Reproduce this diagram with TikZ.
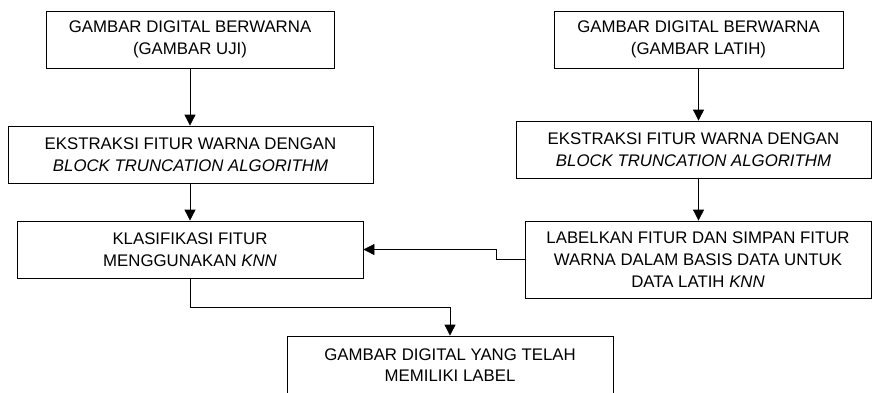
\documentclass[tikz,border=0pt]{standalone}
\usepackage{fontspec}
\setmainfont{Liberation Sans}
\usetikzlibrary{arrows.meta, calc}

\begin{document}
\begin{tikzpicture}[x=1pt,y=-1pt, line width=0.8pt,
  proc_box/.style={draw,align=center,inner sep=0pt,minimum height=57pt,font=\fontsize{16.8}{21.7}\selectfont},
  >={Triangle[width=11pt,length=11pt]}]

\useasboundingbox (0,0) rectangle (872,392);

% kolom kiri: gambar uji
\node[proc_box, minimum width=288pt] (uji) at (190,39.5) {GAMBAR DIGITAL BERWARNA\\(GAMBAR UJI)};
\node[proc_box, minimum width=365pt] (ekstraksi_uji) at (190.5,154.5) {EKSTRAKSI FITUR WARNA DENGAN\\\textit{BLOCK TRUNCATION ALGORITHM}};
\node[proc_box, minimum width=346pt] (klasifikasi) at (190,249.5) {KLASIFIKASI FITUR\\MENGGUNAKAN \textit{KNN}};

% kolom kanan: gambar latih
\node[proc_box, minimum width=289pt] (latih) at (698.5,39.5) {GAMBAR DIGITAL BERWARNA\\(GAMBAR LATIH)};
\node[proc_box, minimum width=355pt] (ekstraksi_latih) at (693.5,149.5) {EKSTRAKSI FITUR WARNA DENGAN\\\textit{BLOCK TRUNCATION ALGORITHM}};
\node[proc_box, minimum width=346pt, minimum height=77pt] (simpan) at (698,259.5) {LABELKAN FITUR DAN SIMPAN FITUR\\WARNA DALAM BASIS DATA UNTUK\\DATA LATIH \textit{KNN}};

% hasil
\node[proc_box, minimum width=326pt, minimum height=58pt] (hasil) at (450,365) {GAMBAR DIGITAL YANG TELAH\\MEMILIKI LABEL};

\draw[->] (uji.south) -- (uji.south |- ekstraksi_uji.north);
\draw[->] (uji.south |- ekstraksi_uji.south) -- (uji.south |- klasifikasi.north);
\draw[->] (latih.south) -- (latih.south |- ekstraksi_latih.north);
\draw[->] (latih.south |- ekstraksi_latih.south) -- (latih.south |- simpan.north);
\draw[->] (simpan.west) -- ++(-28,0) |- (klasifikasi.east);
\draw[->] (klasifikasi.south) -- ++(0,29) -| (hasil.north);

\end{tikzpicture}
\end{document}
